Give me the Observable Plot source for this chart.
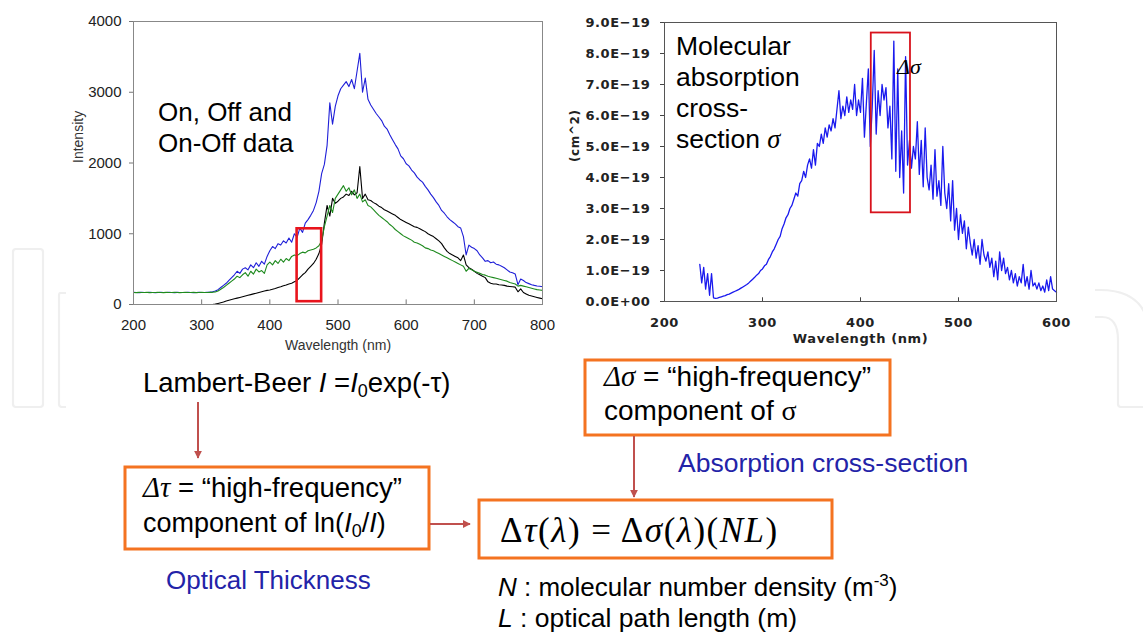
<!DOCTYPE html>
<html><head><meta charset="utf-8">
<script src="https://cdn.jsdelivr.net/npm/d3@7"></script>
<script src="https://cdn.jsdelivr.net/npm/@observablehq/plot@0.6"></script>
<style>
body{margin:0;background:#fff;font-family:"Liberation Sans",Arial,sans-serif;}
#page{position:relative;width:1143px;height:635px;overflow:hidden;background:#fff;}
</style></head><body><div id="page"></div>
<script>
// ---------- Left chart: On, Off and On-Off intensity spectra ----------
const leftStart = 200, leftEnd = 800, leftStep = 4;
const intensityBlue = [
  172,170,168,171,170,169,172,170,168,170,
  171,169,170,172,170,168,171,170,169,170,
  172,170,168,170,171,170,169,172,175,180,
  190,210,240,270,300,340,380,420,470,440,
  500,520,490,560,520,590,540,610,570,680,
  760,820,790,860,840,900,870,940,880,1000,
  950,1080,1020,1150,1200,1260,1330,1440,1600,1850,
  1980,2250,2850,2550,2800,2950,3050,3100,3150,3080,
  3180,3050,3300,3550,3000,3200,2900,2820,2760,2700,
  2650,2600,2520,2480,2400,2330,2260,2200,2100,2060,
  1990,1960,1900,1860,1800,1760,1730,1670,1620,1560,
  1510,1450,1400,1330,1290,1240,1200,1170,1140,1100,
  1080,960,700,840,810,790,760,700,660,610,
  620,590,600,570,560,540,520,490,460,450,
  430,280,360,340,310,295,280,270,262,258,
  252
];
const intensityGreen = [
  170,168,171,169,170,172,168,170,169,171,
  170,168,171,170,169,172,170,168,170,171,
  169,170,172,168,170,171,169,170,171,172,
  178,190,215,240,270,300,330,360,400,380,
  420,450,400,470,430,500,460,480,440,560,
  600,560,620,580,640,600,650,620,680,700,
  690,720,740,730,760,770,780,800,830,900,
  1100,1250,1400,1300,1500,1560,1620,1680,1600,1650,
  1550,1620,1500,1560,1450,1480,1400,1380,1340,1300,
  1260,1230,1200,1170,1130,1100,1060,1030,1000,970,
  950,930,910,880,870,850,830,800,790,770,
  760,740,720,700,680,660,640,620,600,580,
  560,540,470,510,490,470,455,440,425,415,
  400,390,380,370,360,350,340,330,310,300,
  290,260,270,260,250,240,230,220,210,205,
  200
];
const intensityBlack = [
  null,null,null,null,null,null,null,null,null,null,
  null,null,null,null,null,null,null,null,null,null,
  null,null,null,null,null,null,null,null,null,0,
  5,15,25,35,50,60,70,80,90,100,
  110,120,130,140,150,160,170,180,190,200,
  205,215,225,240,250,265,275,290,300,320,
  340,380,420,450,500,540,580,640,720,850,
  1150,1400,1250,1500,1430,1460,1500,1520,1560,1540,
  1600,1550,1580,1950,1500,1560,1480,1470,1440,1420,
  1390,1370,1340,1320,1300,1280,1260,1230,1200,1180,
  1160,1140,1120,1100,1090,1070,1050,1030,1000,980,
  960,930,900,860,800,750,720,700,680,660,
  620,700,560,520,500,470,440,420,400,380,
  320,300,290,290,280,275,270,260,255,250,
  245,180,220,170,150,130,120,110,100,90,
  80
];
const leftXTicks = [200,300,400,500,600,700,800];
const leftYTicks = [0,1000,2000,3000,4000];
const leftWindow = [{x1:440, x2:476, y1:40, y2:1070}];

// ---------- Right chart: molecular absorption cross-section (units of 1e-19 cm^2) ----------
const rightStart = 236, rightEnd = 600, rightStep = 2;
const crossSection = [
  1.2,0.6,1.1,0.4,0.9,0.2,0.9,0.12,0.1,0.11,
  0.13,0.15,0.17,0.19,0.22,0.24,0.27,0.30,0.33,0.36,
  0.39,0.43,0.47,0.51,0.55,0.6,0.66,0.72,0.78,0.85,
  0.9,1.0,1.05,1.15,1.2,1.35,1.45,1.6,1.7,1.85,
  2.0,2.1,2.35,2.5,2.7,2.8,3.0,3.1,3.3,3.5,
  3.4,3.8,3.9,4.2,4.0,4.4,4.6,4.3,4.9,4.4,
  5.1,5.0,5.4,5.1,5.6,5.3,5.7,5.5,5.9,5.6,
  6.2,6.8,5.9,6.3,6.0,6.6,6.1,6.5,6.2,7.0,
  6.0,6.5,6.1,7.2,5.3,6.4,7.5,5.0,6.3,8.1,
  5.4,6.8,6.0,7.0,6.5,6.9,5.6,6.3,4.6,8.4,
  4.2,7.5,4.0,5.5,3.5,7.9,4.4,5.2,4.3,5.0,
  4.6,5.8,4.1,5.2,3.7,5.6,4.0,3.6,4.4,3.3,
  4.9,3.4,3.9,3.1,5.0,3.5,3.0,3.8,2.6,3.9,
  2.3,3.0,2.0,2.8,2.2,2.6,1.7,2.4,1.9,1.5,
  2.0,1.4,1.8,1.2,2.0,1.5,1.3,1.6,1.1,1.4,
  0.8,1.3,0.7,1.6,1.0,1.4,0.9,1.1,0.7,1.0,
  0.6,0.9,0.5,0.8,0.6,1.2,0.5,0.8,0.4,1.0,
  0.5,0.6,0.4,0.6,0.35,0.5,0.3,0.7,0.35,0.8,
  0.4,0.35,0.3
];
const rightXTicks = [200,300,400,500,600];
const rightYTicks = [0,1,2,3,4,5,6,7,8,9];
const rightWindow = [{x1:411, x2:451, y1:2.86, y2:8.66}];

// ---------- build tables ----------
const leftRows = d3.range(leftStart, leftEnd + 1, leftStep).map((w, i) => ({
  wl: w, blue: intensityBlue[i], green: intensityGreen[i], black: intensityBlack[i]
}));
const rightRows = d3.range(rightStart, rightEnd + 1, rightStep).map((w, i) => ({
  wl: w, sigma: crossSection[i]
})).filter(d => d.sigma != null);

const page = document.getElementById("page");
const NS = "http://www.w3.org/2000/svg";

// faint background watermark (behind everything)
const wm = document.createElementNS(NS, "svg");
wm.setAttribute("width", 1143); wm.setAttribute("height", 635);
wm.style.position = "absolute"; wm.style.left = "0"; wm.style.top = "0";
wm.innerHTML = `
<g fill="none" stroke="#efefef" stroke-width="2.2">
  <rect x="13" y="249" width="30" height="158" rx="3"/>
  <path d="M66,293 L60,293 Q59,293 59,296 L59,404 Q59,407 62,407 L66,407"/>
  <path d="M1095,290 L1100,290 Q1150,290 1150,340"/>
  <path d="M1095,317 L1102,317 Q1118,317 1118,340 L1118,404 Q1118,407 1121,407 L1143,407"/>
</g>`;
page.appendChild(wm);

const left = Plot.plot({
  width: 500, height: 360,
  marginLeft: 73, marginRight: 18, marginTop: 21, marginBottom: 56,
  x: {domain: [200, 800]},
  y: {domain: [0, 4000]},
  style: {fontFamily: "Liberation Sans, Arial, sans-serif", fontSize: "15px", color: "#222", background: "transparent"},
  marks: [
    Plot.axisY({ticks: leftYTicks, tickFormat: d => String(d), tickSize: 4, tickPadding: 8, label: null, stroke: "#777", fontSize: 15}),
    Plot.axisX({ticks: leftXTicks, tickFormat: d => String(d), tickSize: 0, tickPadding: 15, label: null, fontSize: 15}),
    Plot.ruleX(leftXTicks.slice(1, -1), {y1: 0, y2: 65, stroke: "#777"}),
    Plot.line(leftRows, {x: "wl", y: "blue", stroke: "#1f1fd8", strokeWidth: 1.1}),
    Plot.line(leftRows, {x: "wl", y: "black", stroke: "#000", strokeWidth: 1.1}),
    Plot.line(leftRows, {x: "wl", y: "green", stroke: "#1e8a1e", strokeWidth: 1.1}),
    Plot.rect(leftWindow, {x1: "x1", x2: "x2", y1: "y1", y2: "y2", stroke: "#e8141c", fill: "none", strokeWidth: 2.6}),
    Plot.frame({stroke: "#888"}),
    Plot.text(["Intensity"], {frameAnchor: "left", dx: -55, rotate: -90, fontSize: 14, fill: "#333"}),
    Plot.text(["Wavelength (nm)"], {frameAnchor: "bottom", dy: 45, fontSize: 14, fill: "#333"})
  ]
});
left.style.position = "absolute"; left.style.left = "60px"; left.style.top = "0px";
page.appendChild(left);

const right = Plot.plot({
  width: 520, height: 360,
  marginLeft: 104, marginRight: 24, marginTop: 22, marginBottom: 59,
  x: {domain: [200, 600]},
  y: {domain: [0, 9]},
  style: {fontFamily: "DejaVu Sans, sans-serif", fontSize: "13px", fontWeight: "bold", color: "#222", background: "transparent", letterSpacing: "0.6px"},
  marks: [
    Plot.axisY({ticks: rightYTicks, tickSize: 4, tickPadding: 10, label: null, stroke: "#444",
      tickFormat: d => d === 0 ? "0.0E+00" : d.toFixed(1) + "E\u221219"}),
    Plot.axisX({ticks: rightXTicks, tickFormat: d => String(d), tickSize: 0, tickPadding: 16, label: null}),
    Plot.ruleX(rightXTicks.slice(1, -1), {y1: 0, y2: 0.12, stroke: "#444"}),
    Plot.line(rightRows, {x: "wl", y: "sigma", stroke: "#1a1aee", strokeWidth: 1.3}),
    Plot.rect(rightWindow, {x1: "x1", x2: "x2", y1: "y1", y2: "y2", stroke: "#d8121c", fill: "none", strokeWidth: 1.8}),
    Plot.frame({stroke: "#555"}),
    Plot.text(["(cm^2)"], {frameAnchor: "left", dx: -89, rotate: -90, fontSize: 12, fontWeight: "bold", fill: "#222"}),
    Plot.text(["Wavelength (nm)"], {frameAnchor: "bottom", dy: 41, fontSize: 13, fontWeight: "bold", fill: "#222"})
  ]
});
right.style.position = "absolute"; right.style.left = "560px"; right.style.top = "0px";
page.appendChild(right);

// ---------- diagram overlay (annotations, boxes, arrows) ----------
const ov = document.createElementNS(NS, "svg");
ov.setAttribute("width", 1143); ov.setAttribute("height", 635);
ov.style.position = "absolute"; ov.style.left = "0"; ov.style.top = "0";
ov.innerHTML = `
<defs>
  <marker id="ah" viewBox="0 0 10 10" refX="9" refY="5" markerWidth="4" markerHeight="4" orient="auto">
    <path d="M0,0 L10,5 L0,10 z" fill="#c0504d"/>
  </marker>
</defs>
<g font-family="Liberation Sans, Arial, sans-serif" fill="#000">
  <text x="158" y="121" font-size="26">On, Off and</text>
  <text x="158" y="152" font-size="26">On-Off data</text>

  <text x="676" y="55" font-size="26.5">Molecular</text>
  <text x="676" y="86" font-size="26.5">absorption</text>
  <text x="676" y="117" font-size="26.5">cross-</text>
  <text x="676" y="148" font-size="26.5">section <tspan font-family="Liberation Serif, serif" font-style="italic">σ</tspan></text>
  <text x="897" y="74" font-size="22" font-family="Liberation Serif, serif" font-style="italic">Δσ</text>

  <text x="143" y="392" font-size="27.5">Lambert-Beer <tspan font-style="italic">I</tspan> =<tspan font-style="italic">I</tspan><tspan font-size="18" dy="5">0</tspan><tspan dy="-5">exp(-τ)</tspan></text>

  <line x1="198" y1="402" x2="198" y2="458" stroke="#c0504d" stroke-width="2" marker-end="url(#ah)"/>

  <rect x="125" y="467" width="304" height="82" fill="#fff" stroke="#f47321" stroke-width="3"/>
  <text x="143" y="497" font-size="27.5"><tspan font-family="Liberation Serif, serif" font-style="italic" font-size="29">Δτ</tspan> = “high-frequency”</text>
  <text x="143" y="532" font-size="27">component of ln(<tspan font-style="italic">I</tspan><tspan font-size="18" dy="5">0</tspan><tspan dy="-5">/</tspan><tspan font-style="italic">I</tspan>)</text>

  <line x1="430" y1="524" x2="470" y2="524" stroke="#c0504d" stroke-width="2" marker-end="url(#ah)"/>

  <text x="166" y="589" font-size="26" fill="#2323a8">Optical Thickness</text>

  <rect x="585" y="360" width="305" height="75" fill="#fff" stroke="#f47321" stroke-width="3"/>
  <text x="604" y="386" font-size="28"><tspan font-family="Liberation Serif, serif" font-style="italic" font-size="29">Δσ</tspan> = “high-frequency”</text>
  <text x="604" y="420" font-size="28">component of <tspan font-family="Liberation Serif, serif">σ</tspan></text>

  <line x1="634" y1="436" x2="634" y2="497" stroke="#c0504d" stroke-width="2" marker-end="url(#ah)"/>

  <text x="678" y="472" font-size="26.5" fill="#2323a8">Absorption cross-section</text>

  <rect x="479" y="500" width="353" height="58" fill="#fff" stroke="#f47321" stroke-width="3"/>
  <text x="500" y="542" font-size="35" letter-spacing="1.5" font-family="Liberation Serif, serif">Δ<tspan font-style="italic">τ</tspan>(<tspan font-style="italic">λ</tspan>) = Δ<tspan font-style="italic">σ</tspan>(<tspan font-style="italic">λ</tspan>)(<tspan font-style="italic">NL</tspan>)</text>

  <text x="498" y="596" font-size="26"><tspan font-style="italic">N</tspan> : molecular number density (m<tspan font-size="17" dy="-10">-3</tspan><tspan dy="10">)</tspan></text>
  <text x="498" y="627" font-size="26.5"><tspan font-style="italic">L</tspan> : optical path length (m)</text>
</g>`;
page.appendChild(ov);
</script>
</body></html>
